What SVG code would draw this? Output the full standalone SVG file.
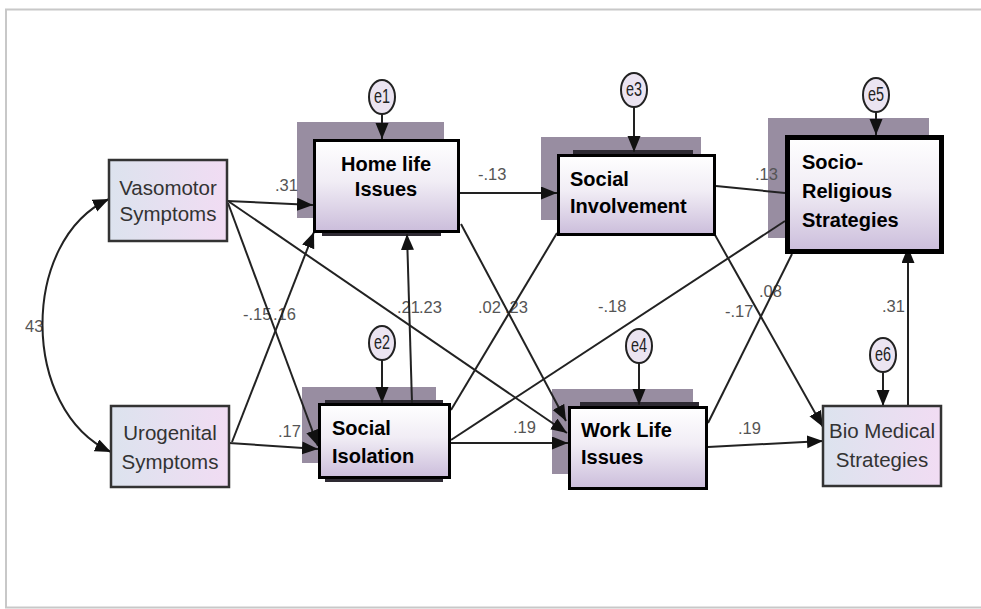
<svg xmlns="http://www.w3.org/2000/svg" width="981" height="609" viewBox="0 0 981 609">
<defs>
<linearGradient id="gBold" x1="0" y1="0" x2="0" y2="1">
<stop offset="0" stop-color="#ffffff"/><stop offset="0.45" stop-color="#f1edf5"/><stop offset="1" stop-color="#cbbddb"/>
</linearGradient>
<linearGradient id="gLight" x1="0" y1="0" x2="1" y2="0">
<stop offset="0" stop-color="#dce3ee"/><stop offset="1" stop-color="#f1dcf3"/>
</linearGradient>
<marker id="ah" markerUnits="userSpaceOnUse" markerWidth="18" markerHeight="14" refX="16" refY="6.5" orient="auto-start-reverse">
<path d="M0,0 L16,6.5 L0,13 z" fill="#111"/>
</marker>
<style>
.ln{fill:none;stroke:#222;stroke-width:2}
.arr{marker-end:url(#ah)}
.lbl{font-family:"Liberation Sans",Arial,sans-serif;font-size:16.5px;fill:#555}
.shadow{fill:#988da1}
.under{fill:#2e2a33}
.bold{fill:url(#gBold);stroke:#000;stroke-width:3}
.light{fill:url(#gLight);stroke:#333;stroke-width:2.5}
.bt{font-family:"Liberation Sans",Arial,sans-serif;font-size:20px;font-weight:bold;fill:#000}
.lt{font-family:"Liberation Sans",Arial,sans-serif;font-size:20.5px;fill:#333;text-anchor:middle}
.err{fill:#ebe4f1;stroke:#222;stroke-width:2}
.et{font-family:"Liberation Sans",Arial,sans-serif;font-size:18px;fill:#222;text-anchor:middle}
</style>
</defs>
<rect x="0" y="0" width="981" height="609" fill="#ffffff"/>
<rect x="6" y="9.5" width="1000" height="598" fill="none" stroke="#c8c8c8" stroke-width="2"/>

<g id="shadows">
<rect class="shadow" x="297" y="122" width="147" height="96"/>
<rect class="shadow" x="541" y="137" width="160" height="83"/>
<rect class="shadow" x="768" y="118" width="161" height="120"/>
<rect class="shadow" x="302" y="387" width="134" height="76"/>
<rect class="shadow" x="552" y="389" width="141" height="85"/>
<rect class="under" x="322" y="142" width="119" height="94"/>
<rect class="under" x="573" y="150" width="120" height="82"/>
<rect class="under" x="325" y="400" width="118" height="82"/>
<rect class="under" x="580" y="402" width="119" height="83"/>
</g>

<g id="labels">
<text class="lbl" x="275" y="191">.31</text>
<text class="lbl" x="478" y="180">-.13</text>
<text class="lbl" x="755" y="180">.13</text>
<text class="lbl" x="243" y="320">-.15</text>
<text class="lbl" x="273" y="320">.16</text>
<text class="lbl" x="397" y="313">.21</text>
<text class="lbl" x="419" y="313">.23</text>
<text class="lbl" x="478" y="313">.02</text>
<text class="lbl" x="505" y="313">.23</text>
<text class="lbl" x="598" y="312">-.18</text>
<text class="lbl" x="725" y="317">-.17</text>
<text class="lbl" x="759" y="297">.08</text>
<text class="lbl" x="882" y="312">.31</text>
<text class="lbl" x="513" y="433">.19</text>
<text class="lbl" x="738" y="434">.19</text>
<text class="lbl" x="278" y="437">.17</text>
<text class="lbl" x="25" y="332">43</text>
</g>

<g id="connectors">
<path class="ln" d="M109,199 C20,240 20,410 111,452" marker-start="url(#ah)" marker-end="url(#ah)"/>
<line class="ln arr" x1="227" y1="201" x2="313" y2="205"/>
<line class="ln arr" x1="228" y1="203" x2="318" y2="446"/>
<line class="ln arr" x1="228" y1="201" x2="567" y2="433"/>
<line class="ln arr" x1="232" y1="442" x2="314" y2="232"/>
<line class="ln arr" x1="229" y1="443" x2="318" y2="449"/>
<line class="ln arr" x1="412" y1="403" x2="407" y2="234"/>
<line class="ln arr" x1="460" y1="193" x2="557" y2="193"/>
<line class="ln arr" x1="461" y1="224" x2="566" y2="421"/>
<line class="ln" x1="451" y1="410" x2="557" y2="233"/>
<line class="ln" x1="451" y1="440" x2="785" y2="221"/>
<line class="ln arr" x1="451" y1="443" x2="568" y2="443"/>
<line class="ln" x1="716" y1="186" x2="785" y2="193"/>
<line class="ln arr" x1="715" y1="235" x2="823" y2="427"/>
<line class="ln" x1="708" y1="423" x2="792" y2="254"/>
<line class="ln arr" x1="708" y1="447" x2="823" y2="441"/>
<line class="ln arr" x1="908" y1="406" x2="908" y2="247"/>
<line class="ln arr" x1="382" y1="114" x2="382" y2="139"/>
<line class="ln arr" x1="634" y1="107" x2="634" y2="152"/>
<line class="ln arr" x1="876" y1="112" x2="876" y2="135"/>
<line class="ln arr" x1="382" y1="360" x2="382" y2="403"/>
<line class="ln arr" x1="639" y1="363" x2="639" y2="405"/>
<line class="ln arr" x1="883" y1="373" x2="883" y2="406"/>
</g>

<g id="vasomotor">
<rect class="light" x="109" y="160" width="118" height="81"/>
<text class="lt" x="168" y="195">Vasomotor</text>
<text class="lt" x="168" y="221">Symptoms</text>
</g>
<g id="urogenital">
<rect class="light" x="111" y="406" width="118" height="81"/>
<text class="lt" x="170" y="440">Urogenital</text>
<text class="lt" x="170" y="469">Symptoms</text>
</g>
<g id="biomedical">
<rect class="light" x="823" y="406" width="118" height="80"/>
<text class="lt" x="882" y="438">Bio Medical</text>
<text class="lt" x="882" y="467">Strategies</text>
</g>
<g id="homelife">
<rect class="bold" x="314.5" y="140.5" width="144" height="91"/>
<text class="bt" x="386" y="171" text-anchor="middle">Home life</text>
<text class="bt" x="386" y="196" text-anchor="middle">Issues</text>
</g>
<g id="socialinvolvement">
<rect class="bold" x="558.5" y="155.5" width="156" height="79"/>
<text class="bt" x="570" y="186">Social</text>
<text class="bt" x="570" y="213">Involvement</text>
</g>
<g id="socioreligious">
<rect x="787.5" y="137.5" width="154" height="114" fill="url(#gBold)" stroke="#000" stroke-width="5"/>
<text class="bt" x="802" y="169">Socio-</text>
<text class="bt" x="802" y="198">Religious</text>
<text class="bt" x="802" y="227">Strategies</text>
</g>
<g id="socialisolation">
<rect class="bold" x="319.5" y="404.5" width="130" height="73"/>
<text class="bt" x="332" y="435">Social</text>
<text class="bt" x="332" y="463">Isolation</text>
</g>
<g id="worklife">
<rect class="bold" x="569.5" y="407.5" width="137" height="81"/>
<text class="bt" x="581" y="437">Work Life</text>
<text class="bt" x="581" y="464">Issues</text>
</g>

<g id="e1"><ellipse class="err" cx="382" cy="97" rx="13" ry="17"/><text class="et" transform="translate(382,103) scale(0.8,1.15)">e1</text></g>
<g id="e3"><ellipse class="err" cx="634" cy="90" rx="13" ry="17"/><text class="et" transform="translate(634,96) scale(0.8,1.15)">e3</text></g>
<g id="e5"><ellipse class="err" cx="876" cy="95" rx="13" ry="17"/><text class="et" transform="translate(876,101) scale(0.8,1.15)">e5</text></g>
<g id="e2"><ellipse class="err" cx="382" cy="343" rx="13" ry="17"/><text class="et" transform="translate(382,349) scale(0.8,1.15)">e2</text></g>
<g id="e4"><ellipse class="err" cx="639" cy="346" rx="13" ry="17"/><text class="et" transform="translate(639,352) scale(0.8,1.15)">e4</text></g>
<g id="e6"><ellipse class="err" cx="883" cy="355" rx="13" ry="17"/><text class="et" transform="translate(883,361) scale(0.8,1.15)">e6</text></g>
</svg>
